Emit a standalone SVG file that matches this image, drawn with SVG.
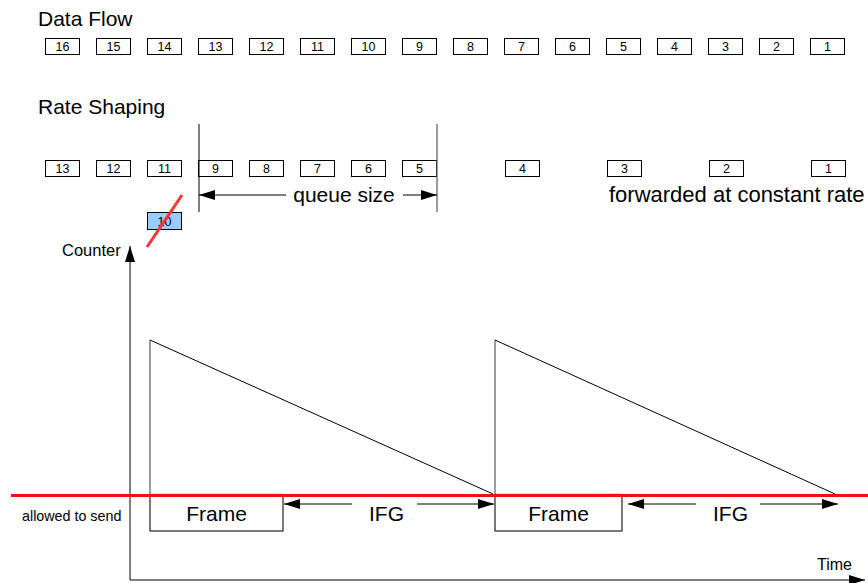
<svg xmlns="http://www.w3.org/2000/svg" width="868" height="583" viewBox="0 0 868 583">
  <style>
    text { font-family: "Liberation Sans", Arial, sans-serif; fill: #000; }
    .title { font-size: 21px; }
    .pkt rect { fill: #fff; stroke: #000; stroke-width: 1; }
    .pkt text { font-size: 12.5px; text-anchor: middle; }
    .big { font-size: 21px; }
    .line { stroke: #000; stroke-width: 1; fill: none; }
    .grey { stroke: #666; stroke-width: 1.3; fill: none; }
  </style>
  <defs>
    <marker id="arrow" viewBox="0 0 16 10" refX="16" refY="5" markerWidth="16" markerHeight="10" markerUnits="userSpaceOnUse" orient="auto">
      <path d="M0,0 L16,5 L0,10 Z" fill="#000"/>
    </marker>
  </defs>

  <rect width="868" height="583" fill="#fff"/>

  <!-- section titles -->
  <text class="title" x="38" y="26">Data Flow</text>
  <text class="title" x="38" y="114">Rate Shaping</text>

  <!-- incoming data flow packets -->
  <g id="flow" class="pkt">
    <g id="f16"><rect x="45.5" y="38.5" width="34" height="16"/><text x="62.5" y="51">16</text></g>
    <g id="f15"><rect x="96.5" y="38.5" width="34" height="16"/><text x="113.5" y="51">15</text></g>
    <g id="f14"><rect x="147.5" y="38.5" width="34" height="16"/><text x="164.5" y="51">14</text></g>
    <g id="f13"><rect x="198.5" y="38.5" width="34" height="16"/><text x="215.5" y="51">13</text></g>
    <g id="f12"><rect x="249.5" y="38.5" width="34" height="16"/><text x="266.5" y="51">12</text></g>
    <g id="f11"><rect x="300.5" y="38.5" width="34" height="16"/><text x="317.5" y="51">11</text></g>
    <g id="f10"><rect x="351.5" y="38.5" width="34" height="16"/><text x="368.5" y="51">10</text></g>
    <g id="f9"><rect x="402.5" y="38.5" width="34" height="16"/><text x="419.5" y="51">9</text></g>
    <g id="f8"><rect x="453.5" y="38.5" width="34" height="16"/><text x="470.5" y="51">8</text></g>
    <g id="f7"><rect x="504.5" y="38.5" width="34" height="16"/><text x="521.5" y="51">7</text></g>
    <g id="f6"><rect x="555.5" y="38.5" width="34" height="16"/><text x="572.5" y="51">6</text></g>
    <g id="f5"><rect x="606.5" y="38.5" width="34" height="16"/><text x="623.5" y="51">5</text></g>
    <g id="f4"><rect x="657.5" y="38.5" width="34" height="16"/><text x="674.5" y="51">4</text></g>
    <g id="f3"><rect x="708.5" y="38.5" width="34" height="16"/><text x="725.5" y="51">3</text></g>
    <g id="f2"><rect x="759.5" y="38.5" width="34" height="16"/><text x="776.5" y="51">2</text></g>
    <g id="f1"><rect x="810.5" y="38.5" width="34" height="16"/><text x="827.5" y="51">1</text></g>
  </g>

  <!-- shaped output packets -->
  <g id="shaped" class="pkt">
    <g id="s13"><rect x="45.5" y="160.5" width="34" height="16"/><text x="62.5" y="173">13</text></g>
    <g id="s12"><rect x="96.5" y="160.5" width="34" height="16"/><text x="113.5" y="173">12</text></g>
    <g id="s11"><rect x="147.5" y="160.5" width="34" height="16"/><text x="164.5" y="173">11</text></g>
    <g id="s9"><rect x="198.5" y="160.5" width="34" height="16"/><text x="215.5" y="173">9</text></g>
    <g id="s8"><rect x="249.5" y="160.5" width="34" height="16"/><text x="266.5" y="173">8</text></g>
    <g id="s7"><rect x="300.5" y="160.5" width="34" height="16"/><text x="317.5" y="173">7</text></g>
    <g id="s6"><rect x="351.5" y="160.5" width="34" height="16"/><text x="368.5" y="173">6</text></g>
    <g id="s5"><rect x="402.5" y="160.5" width="34" height="16"/><text x="419.5" y="173">5</text></g>
    <g id="s4"><rect x="505.5" y="160.5" width="34" height="16"/><text x="522.5" y="173">4</text></g>
    <g id="s3"><rect x="607.5" y="160.5" width="34" height="16"/><text x="624.5" y="173">3</text></g>
    <g id="s2"><rect x="709.5" y="160.5" width="34" height="16"/><text x="726.5" y="173">2</text></g>
    <g id="s1"><rect x="811.5" y="160.5" width="34" height="16"/><text x="828.5" y="173">1</text></g>
    <g id="dropped"><rect x="147.5" y="212.5" width="34" height="17" style="fill:#99ccff"/><text x="164.5" y="226">10</text></g>
  </g>

  <!-- queue bounds and labels -->
  <g id="queue">
    <line class="line" x1="199" y1="124" x2="199" y2="212"/>
    <line class="grey" x1="437" y1="124" x2="437" y2="212"/>
    <text class="big" x="344" y="202" text-anchor="middle">queue size</text>
    <text class="big" x="609" y="202" style="font-size:22px">forwarded at constant rate</text>
  </g>

  <!-- connectors -->
  <g id="connectors">
    <line class="line" x1="286" y1="195" x2="199" y2="195" marker-end="url(#arrow)"/>
    <line class="line" x1="403" y1="195" x2="437" y2="195" marker-end="url(#arrow)"/>
    <!-- drop mark -->
    <line x1="182" y1="195" x2="147" y2="247" stroke="#ff3333" stroke-width="3"/>
    <!-- axes -->
    <line class="line" x1="130" y1="580" x2="130" y2="246" marker-end="url(#arrow)"/>
    <line class="line" x1="130" y1="580" x2="865" y2="580" marker-end="url(#arrow)"/>
    <!-- counter sawtooth -->
    <line class="grey" x1="150" y1="340" x2="150" y2="495"/>
    <line class="line" x1="150" y1="340" x2="493" y2="494"/>
    <line class="grey" x1="495" y1="340" x2="495" y2="495"/>
    <line class="line" x1="495" y1="340" x2="835" y2="494"/>
    <!-- inter-frame gaps -->
    <line class="line" x1="352" y1="504" x2="284" y2="504" marker-end="url(#arrow)"/>
    <line class="line" x1="417" y1="504" x2="494" y2="504" marker-end="url(#arrow)"/>
    <line class="line" x1="696" y1="504" x2="628" y2="504" marker-end="url(#arrow)"/>
    <line class="line" x1="760" y1="504" x2="838" y2="504" marker-end="url(#arrow)"/>
  </g>

  <!-- frames on the time axis -->
  <g id="frame1">
    <rect x="150" y="494.5" width="133" height="36.5" fill="#fff" stroke="#333" stroke-width="1.3"/>
    <text class="big" x="216.5" y="521" text-anchor="middle">Frame</text>
  </g>
  <g id="frame2">
    <rect x="495" y="494.5" width="127" height="36.5" fill="#fff" stroke="#333" stroke-width="1.3"/>
    <text class="big" x="558.5" y="521" text-anchor="middle">Frame</text>
  </g>
  <text class="big" x="386.5" y="521" text-anchor="middle">IFG</text>
  <text class="big" x="730.5" y="521" text-anchor="middle">IFG</text>

  <!-- send threshold -->
  <line x1="11" y1="495.5" x2="868" y2="495.5" stroke="#ee1111" stroke-width="3"/>

  <!-- axis labels -->
  <text x="62" y="256" style="font-size:16.5px">Counter</text>
  <text x="817" y="570" style="font-size:16px">Time</text>
  <text x="22" y="520.5" style="font-size:14.3px">allowed to send</text>
</svg>
